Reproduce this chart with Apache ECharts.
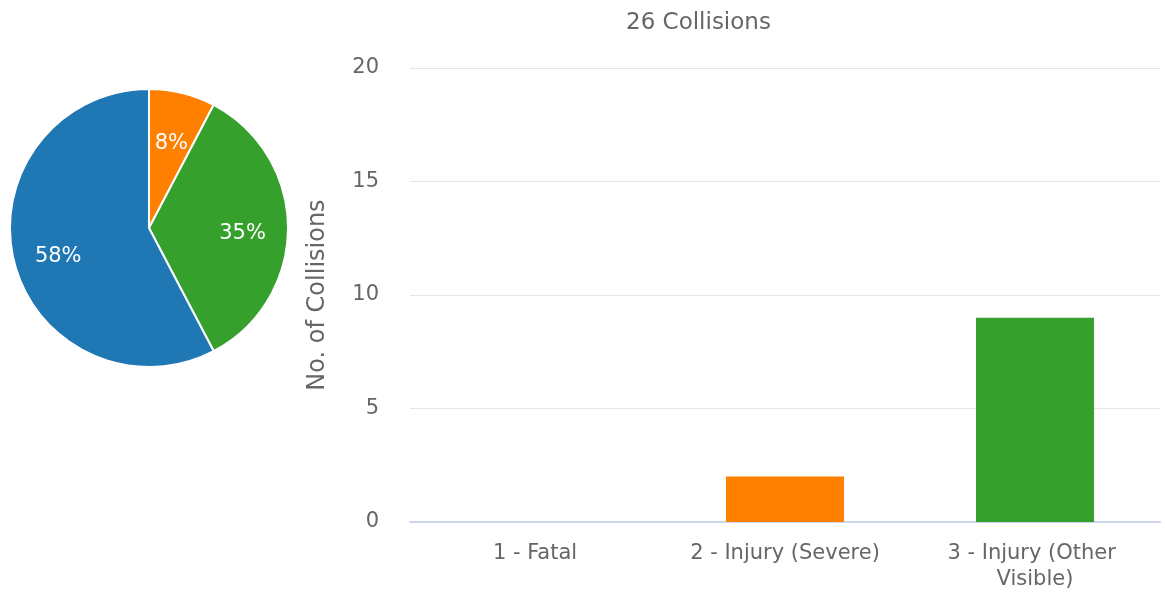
<!DOCTYPE html>
<html>
<head>
<meta charset="utf-8">
<style>
  html, body { margin: 0; padding: 0; background: #fff; }
  #chart { width: 1165px; height: 594px; }
</style>
<script src="https://cdn.jsdelivr.net/npm/echarts@6/dist/echarts.min.js"></script>
</head>
<body>
<div id="chart"></div>
<script>
// Collision severity counts
const severityNames = ['1 - Fatal', '2 - Injury (Severe)', '3 - Injury (Other Visible)', '4 - Injury (Complaint of Pain)'];
const severityCounts = [0, 2, 9, 15];
const severityColors = ['#d62728', '#ff8000', '#35a02c', '#1f77b4'];

// Bar chart shows the first three severities
const barCategories = severityNames.slice(0, 3);
const barValues = severityCounts.slice(0, 3);
const yTicks = { min: 0, max: 20, interval: 5 };

const total = severityCounts.reduce((a, b) => a + b, 0);
const font = 'DejaVu Sans';
const textGray = '#666666';

// coloured slices
const pieData = severityNames.map((n, i) => ({
  name: n, value: severityCounts[i], itemStyle: { color: severityColors[i] }
}));
// same values, no fill: only carries the percentage labels
const pieLabelData = severityNames.map((n, i) => ({ name: n, value: severityCounts[i] }));

const chart = echarts.init(document.getElementById('chart'));
chart.setOption({
  animation: false,
  textStyle: { fontFamily: font },
  title: {
    text: total + ' Collisions',
    left: 621, top: 7,
    textStyle: { color: textGray, fontSize: 23, fontWeight: 'normal', fontFamily: font }
  },
  grid: { left: 410, right: 5, top: 68, bottom: 72, containLabel: false },
  xAxis: {
    type: 'category',
    data: barCategories,
    axisLine: { lineStyle: { color: '#ccd6eb', width: 2 } },
    axisTick: { show: false },
    axisLabel: {
      color: textGray, fontSize: 21, fontFamily: font, margin: 19,
      width: 230, overflow: 'break', lineHeight: 26, interval: 0
    }
  },
  yAxis: {
    type: 'value',
    min: yTicks.min, max: yTicks.max, interval: yTicks.interval,
    name: 'No. of Collisions',
    nameLocation: 'middle',
    nameGap: 80,
    nameTextStyle: { color: textGray, fontSize: 24, fontFamily: font },
    axisLine: { show: false },
    axisTick: { show: false },
    axisLabel: { color: textGray, fontSize: 21, fontFamily: font, margin: 31 },
    splitLine: { lineStyle: { color: '#e6e6e6', width: 1 } }
  },
  series: [
    {
      type: 'bar',
      data: barValues.map((v, i) => ({ value: v, itemStyle: { color: severityColors[i] } })),
      barWidth: 118
    },
    {
      type: 'pie',
      center: [149, 228],
      radius: [0, 139],
      startAngle: 90,
      clockwise: true,
      data: pieData,
      label: { show: false },
      labelLine: { show: false },
      itemStyle: { borderColor: '#ffffff', borderWidth: 2 },
      emphasis: { disabled: true }
    },
    {
      // transparent ring: sets the radius at which the percentages sit
      type: 'pie',
      center: [149, 228],
      radius: [42, 139],
      startAngle: 90,
      clockwise: true,
      silent: true,
      data: pieLabelData,
      itemStyle: { color: 'rgba(0,0,0,0)', borderWidth: 0 },
      label: {
        show: true,
        position: 'inside',
        color: '#ffffff',
        fontSize: 21,
        fontFamily: font,
        offset: [0, 6],
        formatter: p => p.value > 0 ? Math.round(p.value / total * 100) + '%' : ''
      },
      labelLine: { show: false },
      emphasis: { disabled: true }
    }
  ]
});
</script>
</body>
</html>
